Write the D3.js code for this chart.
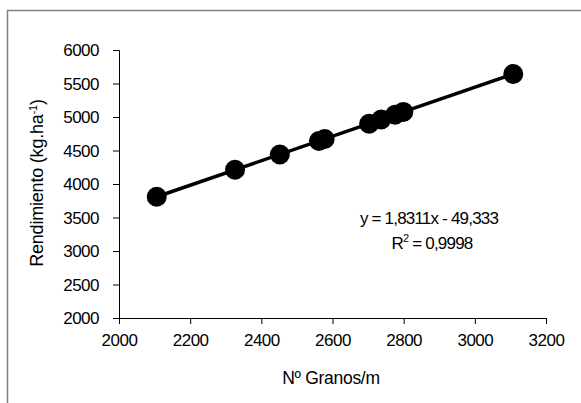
<!DOCTYPE html>
<html>
<head>
<meta charset="utf-8">
<script src="https://cdn.jsdelivr.net/npm/d3@7"></script>
<style>
	body{margin:0;background:#fff;}
	text{font-family:"Liberation Sans",Arial,sans-serif;fill:#000;}
</style>
</head>
<body>
<div id="chart"></div>
<script>

// valores
var granos = [2106, 2326, 2452, 2562, 2578, 2703, 2737, 2776, 2799, 3108]
var rendimiento = [3810, 4212, 4440, 4642, 4672, 4900, 4962, 5034, 5076, 5642]

var xTicks = [2000, 2200, 2400, 2600, 2800, 3000, 3200]
var yTicks = [2000, 2500, 3000, 3500, 4000, 4500, 5000, 5500, 6000]

var ecuacion = "y = 1,8311x - 49,333"
var r2 = "0,9998"

var width = 581,
	height = 403;

var xScale = d3.scaleLinear()
				.domain([2000,3200])
				.range([119,546])

var yScale = d3.scaleLinear()
				.domain([2000,6000])
				.range([318,50])

var svg = d3.select("#chart").append("svg")
			.attr("width",width)
			.attr("height",height)

// marco
svg.append("rect")
	.attr("x",7.5)
	.attr("y",10.5)
	.attr("width",width)
	.attr("height",height)
	.attr("fill","none")
	.attr("stroke","#7f7f7f")
	.attr("stroke-width",1.5)

var xAxis = svg.append("g")
	.attr("transform","translate(0," + yScale(2000) + ")")
	.call(d3.axisBottom(xScale).tickValues(xTicks).tickSize(6).tickPadding(10).tickFormat(d3.format("d")))

var yAxis = svg.append("g")
	.attr("transform","translate(" + xScale(2000) + ",0)")
	.call(d3.axisLeft(yScale).tickValues(yTicks).tickSize(6).tickPadding(14).tickFormat(d3.format("d")))

svg.selectAll(".domain").attr("stroke","#000").attr("stroke-width",1)
svg.selectAll(".tick line").attr("stroke","#000")
svg.selectAll(".tick text")
	.attr("font-size",17)
	.attr("font-family","Liberation Sans, Arial, sans-serif")
	.attr("letter-spacing","-0.5")
yAxis.selectAll(".tick text").attr("dy","0.35em")

// linea de tendencia
var puntos = granos.map(function(d,i){return {"x":d,"y":rendimiento[i]}})
var ext = [puntos[0], puntos[puntos.length-1]]

svg.append("line")
	.attr("x1",xScale(ext[0].x))
	.attr("y1",yScale(ext[0].y))
	.attr("x2",xScale(ext[1].x))
	.attr("y2",yScale(ext[1].y))
	.attr("stroke","#000")
	.attr("stroke-width",3.5)

svg.selectAll("circle")
	.data(puntos).enter()
	.append("circle")
	.attr("cx",function(d){return xScale(d.x)})
	.attr("cy",function(d){return yScale(d.y)})
	.attr("r",10)
	.attr("fill","#000")

// etiquetas de ejes
svg.append("text")
	.attr("x",331)
	.attr("y",384)
	.attr("text-anchor","middle")
	.attr("font-size",17.5)
	.attr("letter-spacing","-0.3")
	.text("Nº Granos/m")

var yl = svg.append("text")
	.attr("transform","translate(43,183) rotate(-90)")
	.attr("text-anchor","middle")
	.attr("font-size",18)
	.attr("letter-spacing","-0.2")
yl.append("tspan").text("Rendimiento (kg.ha")
yl.append("tspan").attr("dy",-6).attr("font-size",11).text("-1")
yl.append("tspan").attr("dy",6).text(")")

// ecuacion
svg.append("text")
	.attr("x",429)
	.attr("y",224)
	.attr("text-anchor","middle")
	.attr("font-size",17)
	.attr("letter-spacing","-0.8")
	.text(ecuacion)

var rt = svg.append("text")
	.attr("x",432)
	.attr("y",249)
	.attr("text-anchor","middle")
	.attr("font-size",17)
	.attr("letter-spacing","-0.8")
rt.append("tspan").text("R")
rt.append("tspan").attr("dy",-7).attr("font-size",11).text("2")
rt.append("tspan").attr("dy",7).text(" = " + r2)

</script>
</body>
</html>
